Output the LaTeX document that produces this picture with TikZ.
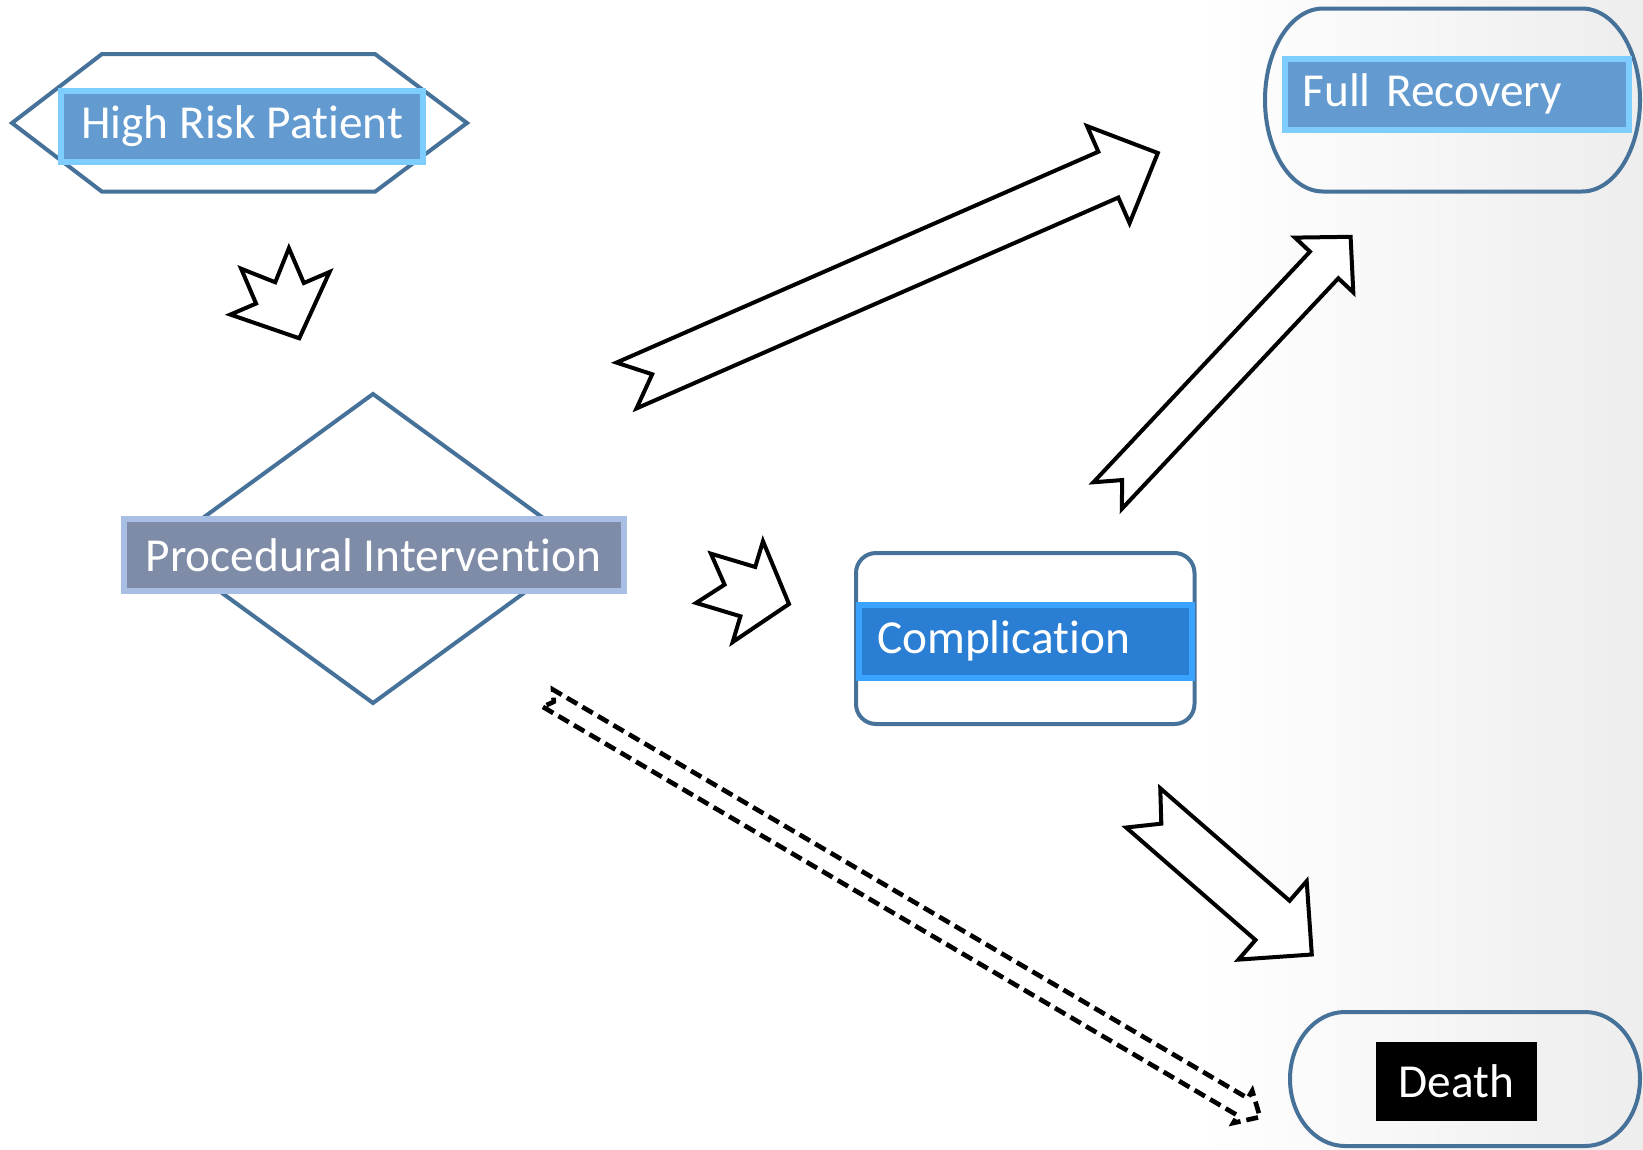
\documentclass[tikz,border=0pt]{standalone}
\usepackage{fontspec}
\setmainfont{Carlito}[Ligatures={NoCommon,NoRequired,NoContextual}]
\usetikzlibrary{calc}

\definecolor{framecol}{RGB}{70,114,154}
\definecolor{riskfill}{RGB}{99,155,208}
\definecolor{riskbevel}{RGB}{125,205,255}
\definecolor{procfill}{RGB}{126,140,168}
\definecolor{procbevel}{RGB}{168,190,228}
\definecolor{compfill}{RGB}{42,127,212}
\definecolor{compbevel}{RGB}{58,162,255}

\newcommand{\diagfont}{\fontsize{35.5}{42}\selectfont}
% notched block arrow: [style]{tail}{tip}{shaft half width}{head half width}{head length}{notch}
\newcommand{\notcharrow}[7][]{%
  \coordinate (hd) at ($(#3)!#6!(#2)$);
  \draw[#1] ($(#2)!#4!90:(#3)$) -- ($(hd)!#4!90:(#3)$) -- ($(hd)!#5!90:(#3)$) -- (#3)
    -- ($(hd)!#5!-90:(#3)$) -- ($(hd)!#4!-90:(#3)$) -- ($(#2)!#4!-90:(#3)$)
    -- ($(#2)!#7!(#3)$) -- cycle;
}

\tikzset{every picture/.style={line width=0.75pt}}
\tikzset{
  frame/.style={draw=framecol, line width=3pt},
  blockarrow/.style={draw=black, fill=white, line width=3pt},
  dasharrow/.style={blockarrow, line width=3.5pt, dash pattern=on 9pt off 4.5pt},
  labelbox/.style={line width=4.5pt, text=white, font=\diagfont, inner xsep=13.5pt, inner ysep=0pt},
}

\begin{document}
\begin{tikzpicture}[x=0.75pt,y=0.75pt,yscale=-1,xscale=1]
\useasboundingbox (0,0) rectangle (1643,1150);
%Background
\fill[white] (0,0) rectangle (1643,1150);
\shade[left color=white, right color=black!7] (1200,0) rectangle (1643,1150);

%Shape: Hexagon
\draw[frame] (12,123) -- (102,54) -- (375,54) -- (467,123) -- (375,191.7) -- (102,191.7) -- cycle;
%Shape: Diamond
\draw[frame] (373,394) -- (585,548.5) -- (373,703) -- (161,548.5) -- cycle;
%Shape: Rectangle
\draw[frame, rounded corners=15pt] (856,553) rectangle (1194.5,724);
%Shape: Stadium
\draw[frame] (1323,8.5) -- (1582,8.5) arc[start angle=-90, end angle=90, x radius=58, y radius=91.5]
  -- (1323,191.5) arc[start angle=90, end angle=270, x radius=58, y radius=91.5] -- cycle;
%Shape: Stadium
\draw[frame] (1345,1012) -- (1585,1012) arc[start angle=-90, end angle=90, x radius=55, y radius=67]
  -- (1345,1146) arc[start angle=90, end angle=270, x radius=55, y radius=67] -- cycle;

% Text Node
\node[labelbox, draw=riskbevel, fill=riskfill, minimum width=272pt, minimum height=53pt] (risk) at (242,126.2) {High Risk Patient};
% Text Node
\node[labelbox, draw=riskbevel, fill=riskfill, text width=231pt, align=left, minimum height=53.6pt] (recovery) at (1456.5,94.3) {Full Recovery};
% Text Node
\node[labelbox, draw=procbevel, fill=procfill, minimum width=375pt, minimum height=54.4pt] (proc) at (373.5,554.8) {Procedural Intervention};
% Text Node
\node[labelbox, draw=compbevel, fill=compfill, text width=222.4pt, align=left, minimum height=55.1pt] (comp) at (1025.3,641.3) {Complication};
% Text Node
\node[labelbox, fill=black, minimum width=120.9pt, minimum height=59.6pt] (death) at (1456.4,1081.3) {Death};

%Arrow ends
\coordinate (risk-out) at (265,258.4);
\coordinate (proc-in) at (299.3,338.3);
\coordinate (proc-out) at (703.5,578.3);
\coordinate (comp-in) at (789,604);
\coordinate (proc-up) at (626.5,385.5);
\coordinate (rec-in) at (1157.8,153);
\coordinate (comp-up) at (1107.6,495.6);
\coordinate (rec-in2) at (1350.6,236.8);
\coordinate (comp-down) at (1143.2,807.9);
\coordinate (death-in) at (1311.8,954.5);
\coordinate (proc-down) at (548,698.3);
\coordinate (death-in2) at (1260,1117);

%Block Arrows
\notcharrow[blockarrow]{risk-out}{proc-in}{19.5pt}{40.5pt}{36.75pt}{19.5pt}
\notcharrow[blockarrow]{proc-out}{comp-in}{19.3pt}{39.5pt}{32.25pt}{16.5pt}
\notcharrow[blockarrow]{proc-up}{rec-in}{18.75pt}{39.75pt}{40.5pt}{21pt}
\notcharrow[blockarrow]{comp-up}{rec-in2}{14.6pt}{30pt}{29pt}{16pt}
\notcharrow[blockarrow]{comp-down}{death-in}{19.5pt}{39pt}{39pt}{18pt}
\notcharrow[dasharrow]{proc-down}{death-in2}{7.5pt}{14pt}{15pt}{5pt}

\end{tikzpicture}
\end{document}
